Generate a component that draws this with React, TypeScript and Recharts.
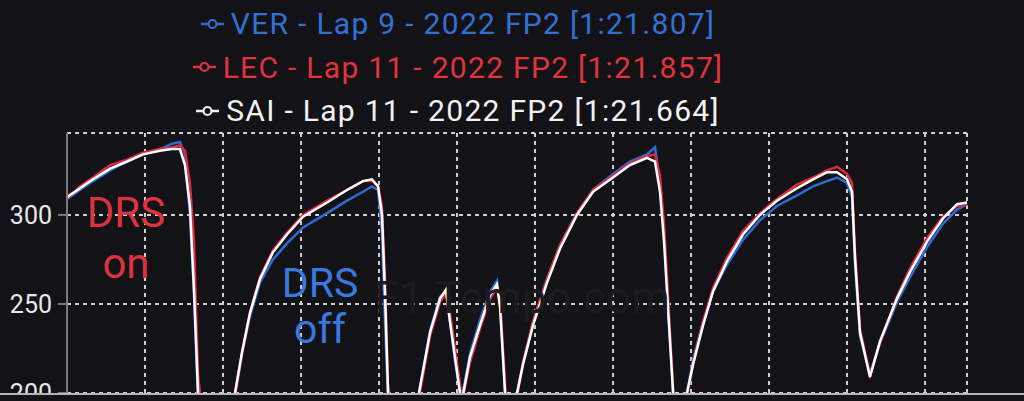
import { CartesianGrid, Legend, Line, LineChart, ReferenceDot, ReferenceLine, XAxis, YAxis } from 'recharts';

// distance along the lap (m)
const distance = [
    0, 83, 167, 276, 385, 487, 596, 673, 724, 756, 788, 814, 840, 949, 1077, 1122, 1173, 1237, 1320, 1410,
    1513, 1667, 1795, 1897, 1955, 1994, 2019, 2038, 2058, 2135, 2256, 2327, 2391, 2429, 2455, 2487, 2519, 2532, 2583, 2647,
    2712, 2756, 2776, 2808, 2840, 2885, 2923, 2987, 3077, 3160, 3269, 3372, 3500, 3609, 3718, 3769, 3801, 3827, 3846, 3885,
    3930, 3974, 4013, 4077, 4141, 4231, 4333, 4442, 4551, 4679, 4782, 4872, 4936, 5000, 5032, 5051, 5083, 5147, 5211, 5320,
    5404, 5513, 5615, 5705, 5769,
];

const verSpeed = [
    309, 314, 319, 325, 330, 334, 337, 340, 341, 334, 300, 255, 195, 120,
    200, 222, 243, 262, 275, 284, 293, 301, 308, 313, 316, 314, 290, 240, 195, 150,
    200, 235, 254, 257, 240, 218, 200, 198, 222, 241, 257, 263, 250, 200, 160,
    200, 217, 240, 264, 283, 301, 314, 323, 330, 334, 338, 318, 290, 260, 200, 150,
    200, 219, 240, 257, 272, 286, 297, 305, 311, 316, 319, 321, 318, 310, 272, 232, 211, 228, 251, 265, 282, 295, 303, 306,
];

const lecSpeed = [
    309, 316, 321, 328, 331, 335, 337, 338, 339, 336, 318, 285, 210, 120,
    198, 222, 245, 265, 280, 290, 300, 308, 314, 319, 319, 316, 305, 265, 205, 150,
    197, 232, 251, 256, 245, 225, 205, 195, 217, 236, 253, 259, 252, 205, 160,
    198, 217, 240, 264, 283, 301, 314, 322, 329, 333, 334, 322, 295, 265, 203, 150,
    198, 217, 240, 259, 276, 291, 301, 309, 317, 321, 325, 327, 323, 318, 280, 236, 210, 228, 254, 270, 287, 299, 305, 306,
];

const saiSpeed = [
    310, 315, 320, 326, 330, 334, 336, 337, 337, 328, 305, 258, 200, 120,
    200, 223, 245, 264, 279, 289, 299, 307, 314, 319, 320, 316, 300, 257, 200, 150,
    200, 234, 253, 258, 240, 220, 200, 196, 220, 238, 255, 261, 248, 200, 160,
    200, 216, 238, 262, 281, 300, 313, 321, 328, 332, 330, 313, 285, 257, 200, 150,
    200, 216, 238, 257, 274, 289, 300, 308, 315, 320, 324, 324, 320, 313, 276, 234, 209, 229, 253, 268, 285, 298, 306, 307,
];

const xTicks = [0, 500, 1000, 1500, 2000, 2500, 3000, 3500, 4000, 4500, 5000, 5500];
const yTicks = [200, 250, 300];
const xMax = 5769;
const yMax = 346;

const series = [
    { key: 'ver', name: 'VER - Lap 9 - 2022 FP2 [1:21.807]', color: '#2f6bd3', legendColor: '#3370d4' },
    { key: 'lec', name: 'LEC - Lap 11 - 2022 FP2 [1:21.857]', color: '#e02a3b', legendColor: '#e0323f' },
    { key: 'sai', name: 'SAI - Lap 11 - 2022 FP2 [1:21.664]', color: '#ffffff', legendColor: '#f2f2f2' },
];

const data = distance.map((d, i) => ({
    distance: d,
    ver: verSpeed[i],
    lec: lecSpeed[i],
    sai: saiSpeed[i],
}));

const BG = '#131217';
const FONT = 'Roboto, "Noto Sans", sans-serif';

const renderLegend = () => (
    <div style={{ width: 916, fontFamily: FONT }}>
        {series.map((s) => (
            <div
                key={s.key}
                style={{
                    height: 43.5,
                    display: 'flex',
                    alignItems: 'center',
                    justifyContent: 'center',
                    color: s.legendColor,
                    fontSize: 30,
                    letterSpacing: 1.3,
                }}
            >
                <svg width={23} height={12} style={{ marginRight: 7 }}>
                    <line x1={0} y1={6} x2={23} y2={6} stroke={s.legendColor} strokeWidth={2.5} />
                    <circle cx={11.5} cy={6} r={4} fill={BG} stroke={s.legendColor} strokeWidth={2.2} />
                </svg>
                <span>{s.name}</span>
            </div>
        ))}
    </div>
);

const twoLineLabel = (top: string, bottom: string, color: string, size: number, gap: number) =>
    (props: any) => {
        const { viewBox } = props;
        const x = viewBox.x + (viewBox.width || 0) / 2;
        const y = viewBox.y + (viewBox.height || 0) / 2;
        return (
            <text x={x} y={y} fill={color} fontSize={size} fontFamily={FONT} textAnchor="middle">
                <tspan x={x} y={y}>{top}</tspan>
                <tspan x={x} y={y + gap}>{bottom}</tspan>
            </text>
        );
    };

const watermark = (props: any) => {
    const { viewBox } = props;
    return (
        <text x={viewBox.x} y={viewBox.y} fill="#1b1a20" fontSize={44} fontFamily={FONT} textAnchor="middle">
            F1-Tempo.com
        </text>
    );
};

const App = () => {
    return (
        <div style={{ position: 'fixed', left: 0, top: 0, width: 1024, height: 401, background: BG, overflow: 'hidden' }}>
            <LineChart
                width={1024}
                height={401}
                data={data}
                margin={{ top: 133, right: 57, left: 0, bottom: 8 }}
            >
                <CartesianGrid stroke="#cfcfcf" strokeWidth={2} strokeDasharray="4 4" />
                <XAxis dataKey="distance" type="number" domain={[0, xMax]} ticks={xTicks} hide />
                <YAxis
                    type="number"
                    domain={[200, yMax]}
                    ticks={yTicks}
                    interval={0}
                    allowDataOverflow
                    width={67}
                    tick={{ fill: '#e8e8e8', fontSize: 25, fontFamily: FONT }}
                    tickLine={{ stroke: '#7a7a7a', strokeWidth: 2 }}
                    tickSize={9}
                    tickMargin={6}
                    axisLine={{ stroke: '#7a7a7a', strokeWidth: 2 }}
                />
                <ReferenceLine y={yMax} stroke="#cfcfcf" strokeWidth={2} strokeDasharray="4 4" />
                <ReferenceLine x={xMax} stroke="#cfcfcf" strokeWidth={2} strokeDasharray="4 4" />
                <ReferenceDot x={2917} y={245} r={0} stroke="none" fill="none" label={{ content: watermark }} />
                <Legend
                    layout="horizontal"
                    verticalAlign="middle"
                    align="center"
                    content={renderLegend}
                    wrapperStyle={{ top: 2, left: 0, width: 916, height: 132 }}
                />
                {series.map((s) => (
                    <Line
                        key={s.key}
                        dataKey={s.key}
                        name={s.name}
                        type="linear"
                        stroke={s.color}
                        strokeWidth={2.5}
                        dot={false}
                        activeDot={false}
                        isAnimationActive={false}
                    />
                ))}
                <ReferenceDot
                    x={378}
                    y={293}
                    r={0}
                    stroke="none"
                    fill="none"
                    ifOverflow="visible"
                    label={{ content: twoLineLabel('DRS', 'on', '#dc3340', 42, 51) }}
                />
                <ReferenceDot
                    x={1622}
                    y={254}
                    r={0}
                    stroke="none"
                    fill="none"
                    ifOverflow="visible"
                    label={{ content: twoLineLabel('DRS', 'off', '#3a78de', 41, 46) }}
                />
            </LineChart>
            <div
                style={{
                    position: 'absolute',
                    left: 0,
                    top: 393,
                    width: 1024,
                    height: 8,
                    background: '#141318',
                    borderTop: '2px solid #b5b5b5',
                    boxSizing: 'border-box',
                }}
            />
        </div>
    );
};

export default App;
